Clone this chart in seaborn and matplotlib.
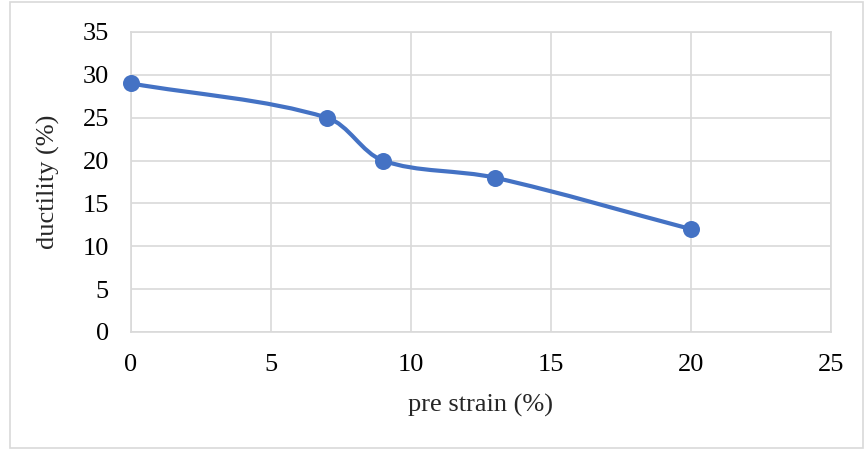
import numpy as np
import pandas as pd
import matplotlib
matplotlib.use("Agg")
import matplotlib.pyplot as plt
import seaborn as sns
from matplotlib.path import Path
from matplotlib.patches import PathPatch, Rectangle

# ── data ──
pre_strain = [0, 7, 9, 13, 20]
ductility = [29, 25, 20, 18, 12]
x_ticks = [0, 5, 10, 15, 20, 25]
y_ticks = [0, 5, 10, 15, 20, 25, 30, 35]

data = pd.DataFrame({"pre strain (%)": pre_strain, "ductility (%)": ductility})

sns.set_theme(style="whitegrid")
plt.rcParams["font.family"] = ["Liberation Serif", "DejaVu Serif"]

blue = "#4472C4"
grid_c = "#D9D9D9"
fs = 19

fig = plt.figure(figsize=(8.65, 4.5), dpi=100)
ax = fig.add_axes([131 / 865, 1 - 332 / 450, 700 / 865, 300 / 450])
ax.set_xlim(0, 25)
ax.set_ylim(0, 35)

# Excel-style smoothed line, built in screen space from the data points
pts = ax.transData.transform(np.column_stack([pre_strain, ductility]).astype(float))
n = len(pts)
verts = [pts[0]]
codes = [Path.MOVETO]
for i in range(n - 1):
    p0 = pts[i - 1] if i > 0 else pts[i]
    p1 = pts[i]
    p2 = pts[i + 1]
    p3 = pts[i + 2] if i + 2 < n else pts[i + 1]
    d01 = np.hypot(*(p1 - p0))
    d12 = np.hypot(*(p2 - p1))
    d23 = np.hypot(*(p3 - p2))
    c1 = p1 + (p2 - p0) * d12 / (d01 + d12) / 3.0
    c2 = p2 - (p3 - p1) * d12 / (d12 + d23) / 3.0
    verts += [c1, c2, p2]
    codes += [Path.CURVE4] * 3
verts = ax.transData.inverted().transform(np.array(verts))
ax.add_patch(PathPatch(Path(verts, codes), facecolor="none", edgecolor=blue,
                       linewidth=3, zorder=3, capstyle="round", clip_on=False))

sns.scatterplot(data=data, x="pre strain (%)", y="ductility (%)", ax=ax,
                color=blue, s=150, edgecolor=blue, linewidth=0, zorder=4,
                clip_on=False)

ax.set_xlim(0, 25)
ax.set_ylim(0, 35)
ax.set_xticks(x_ticks)
ax.set_yticks(y_ticks)
ax.grid(True, color=grid_c, linewidth=1.2)
for s in ax.spines.values():
    s.set_color(grid_c)
    s.set_linewidth(1.2)
ax.tick_params(axis="both", length=0, labelsize=fs, colors="black")
ax.tick_params(axis="y", pad=16)
ax.tick_params(axis="x", pad=16)
ax.set_xlabel("pre strain (%)", fontsize=fs, labelpad=13)
ax.set_ylabel("ductility (%)", fontsize=fs, labelpad=16)

# chart area border
fig.patches.append(Rectangle((10 / 865, 2 / 450), 853 / 865, 446 / 450,
                             transform=fig.transFigure, fill=False,
                             edgecolor=grid_c, linewidth=1.2))

plt.savefig("out.png", dpi=100)
plt.close()
